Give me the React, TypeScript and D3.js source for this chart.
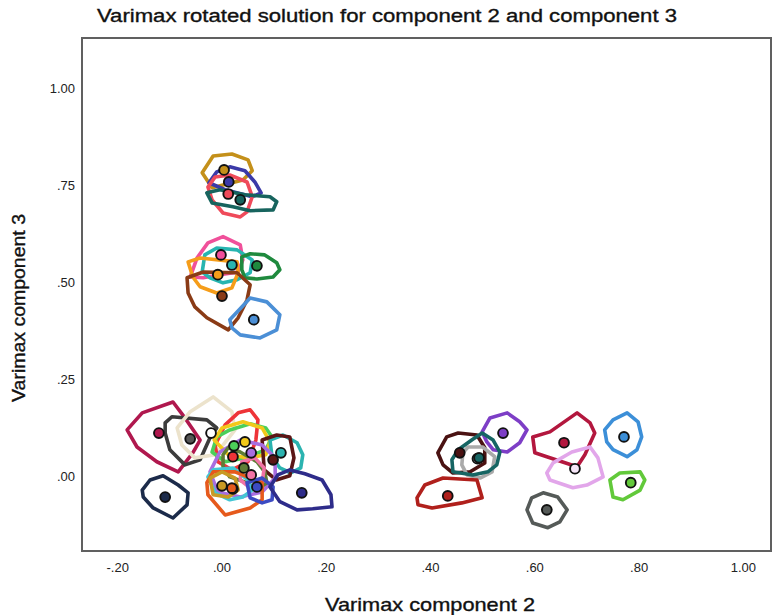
import React from "react";
import { scaleLinear, line, curveLinearClosed } from "d3";

// loadings on varimax component 2 (x) and component 3 (y)
const compX = [
  0.004, 0.013, 0.012, 0.035,
  -0.002, 0.019, 0.067, -0.008, 0.0, 0.061,
  -0.121, -0.061, -0.021, -0.109,
  0.021, 0.023, 0.044, 0.113, 0.098, 0.056, 0.042, 0.056, 0.021, 0.019, 0.0, 0.067, 0.153,
  0.539, 0.456, 0.49, 0.493, 0.656, 0.677, 0.433, 0.623, 0.771, 0.784,
];
const compY = [
  0.791, 0.76, 0.729, 0.714,
  0.572, 0.546, 0.544, 0.521, 0.466, 0.405,
  0.113, 0.098, 0.113, -0.052,
  0.052, 0.08, 0.09, 0.062, 0.044, 0.062, 0.023, 0.005, -0.031, -0.029, -0.023, -0.026, -0.041,
  0.113, 0.062, 0.047, 0.049, 0.088, 0.021, -0.049, -0.085, 0.103, -0.015,
];

// outline (hull) of each item, in loading units
const hulls = [
  [[-0.038, 0.784], [-0.017, 0.827], [0.019, 0.832], [0.05, 0.817], [0.058, 0.789], [0.04, 0.765], [-0.019, 0.745]],
  [[-0.025, 0.758], [-0.01, 0.786], [0.015, 0.799], [0.044, 0.789], [0.063, 0.76], [0.075, 0.732], [0.058, 0.722], [0.006, 0.74]],
  [[-0.027, 0.747], [-0.013, 0.773], [0.015, 0.778], [0.048, 0.76], [0.058, 0.722], [0.048, 0.683], [0.035, 0.67], [0.002, 0.68], [-0.019, 0.714]],
  [[-0.029, 0.732], [-0.004, 0.74], [0.044, 0.727], [0.092, 0.722], [0.105, 0.709], [0.098, 0.688], [0.054, 0.686], [0.021, 0.696], [-0.019, 0.706]],
  [[-0.061, 0.515], [-0.048, 0.564], [-0.027, 0.603], [0.002, 0.619], [0.035, 0.598], [0.04, 0.559], [0.031, 0.528], [-0.004, 0.521], [-0.036, 0.513]],
  [[-0.038, 0.528], [-0.033, 0.572], [-0.01, 0.59], [0.029, 0.585], [0.058, 0.559], [0.054, 0.526], [0.029, 0.508], [0.002, 0.5], [-0.023, 0.513]],
  [[0.038, 0.567], [0.054, 0.575], [0.082, 0.572], [0.105, 0.552], [0.111, 0.534], [0.098, 0.515], [0.067, 0.51], [0.044, 0.513], [0.038, 0.534]],
  [[-0.065, 0.554], [-0.042, 0.564], [0.029, 0.554], [0.031, 0.526], [0.019, 0.487], [-0.01, 0.474], [-0.042, 0.49], [-0.056, 0.515]],
  [[-0.067, 0.513], [-0.036, 0.528], [0.029, 0.526], [0.054, 0.495], [0.048, 0.456], [0.031, 0.41], [0.012, 0.379], [-0.029, 0.41], [-0.052, 0.438], [-0.065, 0.474]],
  [[0.015, 0.405], [0.038, 0.438], [0.054, 0.461], [0.086, 0.451], [0.111, 0.418], [0.105, 0.379], [0.073, 0.358], [0.035, 0.366], [0.019, 0.384]],
  [[-0.182, 0.121], [-0.153, 0.165], [-0.094, 0.193], [-0.071, 0.152], [-0.042, 0.095], [-0.056, 0.062], [-0.084, 0.013], [-0.125, 0.039], [-0.163, 0.077]],
  [[-0.109, 0.113], [-0.109, 0.139], [-0.096, 0.155], [-0.029, 0.147], [-0.01, 0.126], [-0.023, 0.101], [-0.042, 0.044], [-0.071, 0.031], [-0.1, 0.07]],
  [[-0.086, 0.126], [-0.061, 0.168], [-0.017, 0.206], [0.019, 0.168], [0.025, 0.121], [-0.013, 0.057], [-0.052, 0.049], [-0.077, 0.082]],
  [[-0.153, -0.034], [-0.138, -0.008], [-0.113, 0.003], [-0.084, -0.021], [-0.065, -0.041], [-0.067, -0.072], [-0.094, -0.106], [-0.132, -0.08], [-0.151, -0.052]],
  [[0.031, 0.165], [0.054, 0.173], [0.069, 0.147], [0.065, 0.095], [0.05, 0.039], [0.019, 0.018], [-0.008, 0.039], [-0.013, 0.082], [0.006, 0.134]],
  [[-0.019, 0.064], [-0.01, 0.103], [0.015, 0.121], [0.054, 0.137], [0.084, 0.126], [0.096, 0.103], [0.084, 0.07], [0.044, 0.049], [0.006, 0.039]],
  [[-0.015, 0.095], [0.0, 0.126], [0.04, 0.142], [0.077, 0.126], [0.092, 0.09], [0.084, 0.057], [0.05, 0.049], [0.012, 0.057]],
  [[0.092, 0.095], [0.117, 0.108], [0.144, 0.088], [0.155, 0.057], [0.151, 0.023], [0.132, 0.01], [0.111, 0.023], [0.096, 0.052]],
  [[0.077, 0.095], [0.105, 0.108], [0.13, 0.103], [0.138, 0.049], [0.13, 0.003], [0.104, -0.008], [0.081, 0.018]],
  [[-0.023, 0.013], [-0.004, 0.064], [0.035, 0.095], [0.077, 0.082], [0.102, 0.049], [0.102, -0.003], [0.077, -0.039], [0.035, -0.052], [-0.008, -0.039]],
  [[0.002, 0.057], [0.012, 0.075], [0.035, 0.064], [0.067, 0.039], [0.082, 0.013], [0.086, -0.015], [0.067, -0.034], [0.048, -0.015], [0.015, 0.0], [0.002, 0.026]],
  [[0.038, 0.039], [0.063, 0.049], [0.081, 0.023], [0.077, -0.015], [0.054, -0.028], [0.035, -0.008]],
  [[-0.027, 0.0], [-0.017, 0.018], [0.021, 0.023], [0.05, -0.008], [0.058, -0.034], [0.04, -0.052], [0.015, -0.059], [-0.013, -0.041]],
  [[-0.029, -0.015], [-0.017, 0.013], [0.025, 0.013], [0.077, -0.015], [0.077, -0.059], [0.054, -0.08], [0.006, -0.098], [-0.027, -0.046]],
  [[-0.023, -0.003], [0.0, 0.013], [0.025, -0.003], [0.031, -0.034], [0.012, -0.052], [-0.017, -0.046]],
  [[0.048, -0.015], [0.077, -0.003], [0.098, -0.026], [0.096, -0.059], [0.077, -0.067], [0.054, -0.054]],
  [[0.092, -0.026], [0.107, 0.005], [0.13, 0.018], [0.159, 0.008], [0.192, -0.008], [0.209, -0.046], [0.211, -0.077], [0.174, -0.082], [0.144, -0.085], [0.111, -0.064]],
  [[0.499, 0.116], [0.514, 0.152], [0.547, 0.165], [0.571, 0.142], [0.585, 0.121], [0.571, 0.088], [0.547, 0.064], [0.52, 0.07], [0.508, 0.09]],
  [[0.414, 0.062], [0.431, 0.103], [0.453, 0.113], [0.489, 0.108], [0.504, 0.075], [0.504, 0.036], [0.476, 0.013], [0.443, 0.01], [0.424, 0.031]],
  [[0.462, 0.062], [0.472, 0.077], [0.5, 0.077], [0.523, 0.052], [0.518, 0.013], [0.495, -0.003], [0.47, 0.005], [0.46, 0.031]],
  [[0.441, 0.044], [0.453, 0.07], [0.479, 0.095], [0.499, 0.113], [0.52, 0.095], [0.533, 0.064], [0.527, 0.031], [0.51, 0.013], [0.481, 0.005], [0.443, 0.013]],
  [[0.596, 0.103], [0.629, 0.116], [0.681, 0.165], [0.706, 0.139], [0.715, 0.113], [0.696, 0.057], [0.681, 0.026], [0.623, 0.052], [0.6, 0.062]],
  [[0.623, 0.01], [0.635, 0.036], [0.671, 0.064], [0.706, 0.077], [0.721, 0.049], [0.731, 0.0], [0.7, -0.021], [0.673, -0.028], [0.629, -0.008]],
  [[0.374, -0.054], [0.389, -0.021], [0.424, -0.003], [0.489, -0.008], [0.499, -0.054], [0.46, -0.067], [0.403, -0.08], [0.376, -0.072]],
  [[0.585, -0.085], [0.594, -0.054], [0.616, -0.041], [0.644, -0.052], [0.662, -0.085], [0.648, -0.116], [0.625, -0.131], [0.596, -0.119]],
  [[0.734, 0.121], [0.75, 0.147], [0.777, 0.165], [0.798, 0.142], [0.805, 0.103], [0.796, 0.07], [0.777, 0.052], [0.75, 0.07], [0.738, 0.09]],
  [[0.744, -0.008], [0.763, 0.01], [0.802, 0.013], [0.811, -0.008], [0.802, -0.034], [0.769, -0.059], [0.75, -0.052]],
];

const hullColors = [
  "#c4901a", "#3b3aa8", "#ef4a5a", "#17645e",
  "#f0509a", "#27b5b0", "#1f8a3e", "#f59d1a", "#8a3b16", "#4b8fd6",
  "#b0184e", "#3c3c3c", "#ece3cc", "#1c2b4a",
  "#ee3438", "#4ccf5a", "#f2c81a", "#2bb3b0", "#5b1616", "#a86ee0", "#5f7d36", "#f173a6",
  "#44c6d4", "#e65a1c", "#c99a24", "#3c4bc2", "#2e2c8a",
  "#7d3ec6", "#4a1212", "#aaaaaa", "#166563", "#b3173e", "#e2a6ea", "#b0201c", "#555a58", "#3c8fd8", "#62c93a",
];
const pointFills = hullColors.map((c, i) =>
  i === 12 ? "#ffffff" : i === 32 ? "#f6e6f8" : i === 11 ? "#555555" : c
);

const xTicks = [-0.2, 0, 0.2, 0.4, 0.6, 0.8, 1.0];
const yTicks = [0, 0.25, 0.5, 0.75, 1.0];
const fmt = (v: number) => (v === 1 ? "1.00" : v < 0 ? "-" + v.toFixed(2).slice(2) : v.toFixed(2).slice(1));

const W = 773;
const H = 615;
const left = 82, right = 771, top = 38, bottom = 551;

export default function App() {
  const x = scaleLinear().domain([-0.2685, 1.053]).range([left, right]);
  const y = scaleLinear().domain([-0.191, 1.131]).range([bottom, top]);
  const hullPath = line<number[]>()
    .x((d) => x(d[0]))
    .y((d) => y(d[1]))
    .curve(curveLinearClosed);
  const font = "'Liberation Sans', Arial, sans-serif";

  return (
    <svg width={W} height={H} style={{ position: "absolute", left: 0, top: 0, background: "#fff" }}>
      <text x={97} y={22} fontFamily={font} fontSize={18} fill="#111" stroke="#111" strokeWidth={0.35} textLength={580} lengthAdjust="spacingAndGlyphs">
        Varimax rotated solution for component 2 and component 3
      </text>
      <rect x={left} y={top} width={right - left} height={bottom - top} fill="none" stroke="#606060" strokeWidth={2} />
      <g>
        {hulls.map((h, i) => (
          <path key={i} d={hullPath(h) || ""} fill="none" stroke={hullColors[i]} strokeWidth={3.6} strokeLinejoin="round" />
        ))}
      </g>
      <g>
        {compX.map((v, i) => (
          <circle key={i} cx={x(v)} cy={y(compY[i])} r={4.9} fill={pointFills[i]} stroke="#111" strokeWidth={1.9} />
        ))}
      </g>
      <g fontFamily={font} fontSize={13} fill="#222">
        {xTicks.map((t) => (
          <text key={t} x={x(t)} y={572} textAnchor="middle">{fmt(t)}</text>
        ))}
        {yTicks.map((t) => (
          <text key={t} x={75} y={y(t) + 4.5} textAnchor="end">{fmt(t)}</text>
        ))}
      </g>
      <text x={430} y={611} textAnchor="middle" fontFamily={font} fontSize={19} fill="#111" stroke="#111" strokeWidth={0.35} textLength={210} lengthAdjust="spacingAndGlyphs">
        Varimax component 2
      </text>
      <text transform="translate(25,308) rotate(-90)" textAnchor="middle" fontFamily={font} fontSize={18} fill="#111" stroke="#111" strokeWidth={0.35} textLength={188} lengthAdjust="spacingAndGlyphs">
        Varimax component 3
      </text>
    </svg>
  );
}
